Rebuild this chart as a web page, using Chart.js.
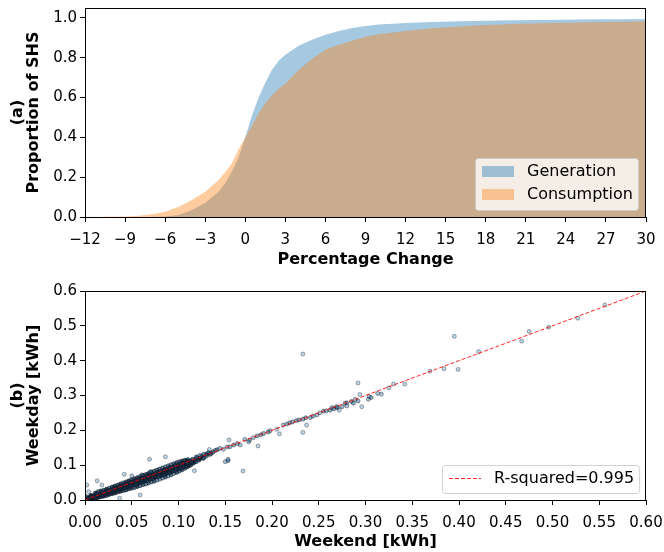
<!DOCTYPE html>
<html lang="en">
<head>
<meta charset="UTF-8" />
<title>SHS percentage change and weekday vs weekend</title>
<script src="https://cdn.jsdelivr.net/npm/chart.js"></script>
<style>
  body { margin: 0; background: #fff; }
  .panel { position: absolute; left: 0; width: 664px; }
  #top { top: 0; height: 272px; }
  #bottom { top: 276px; height: 276px; }
</style>
</head>
<body>
<div class="panel" id="top"><canvas id="cdfChart" width="664" height="272"></canvas></div>
<div class="panel" id="bottom"><canvas id="scatterChart" width="664" height="276"></canvas></div>
<script>
// (a) cumulative share of SHS vs percentage change
const pctChange = [-12, -9, -8, -7, -6, -5, -4, -3, -2, -1.5, -1, -0.5, 0, 0.5, 1, 1.5, 2, 2.5, 3, 4, 5, 6, 7, 8, 9, 10, 12, 14, 16, 18, 20, 22, 24, 26, 28, 30];
const generation = [0, 0, 0, 0, 0.003, 0.01, 0.035, 0.07, 0.127, 0.17, 0.23, 0.30, 0.40, 0.51, 0.60, 0.675, 0.74, 0.785, 0.815, 0.86, 0.89, 0.915, 0.935, 0.95, 0.96, 0.967, 0.975, 0.98, 0.983, 0.986, 0.988, 0.99, 0.991, 0.993, 0.994, 0.995];
const consumption = [0, 0.002, 0.006, 0.014, 0.027, 0.05, 0.085, 0.127, 0.186, 0.225, 0.27, 0.34, 0.40, 0.46, 0.52, 0.57, 0.61, 0.645, 0.67, 0.74, 0.795, 0.84, 0.865, 0.885, 0.905, 0.918, 0.935, 0.948, 0.957, 0.964, 0.969, 0.973, 0.976, 0.979, 0.981, 0.983];
const pctTicks = [-12, -9, -6, -3, 0, 3, 6, 9, 12, 15, 18, 21, 24, 27, 30];
const shareTicks = [0, 0.2, 0.4, 0.6, 0.8, 1.0];

// (b) weekday vs weekend consumption per SHS
const weekendKwh = [
  0.002, 0.003, 0.001,
  0.005, 0.004, 0.006, 0.004,
  0.008, 0.009, 0.007,
  0.011, 0.010, 0.012, 0.011,
  0.014, 0.015, 0.013, 0.014,
  0.017, 0.016, 0.018, 0.017,
  0.020, 0.021, 0.019, 0.020,
  0.023, 0.022, 0.024, 0.023,
  0.026, 0.027, 0.025, 0.026,
  0.029, 0.028, 0.030, 0.029,
  0.032, 0.033, 0.031, 0.032,
  0.035, 0.034, 0.036, 0.035,
  0.038, 0.039, 0.037, 0.038,
  0.041, 0.040, 0.042, 0.041,
  0.044, 0.045, 0.043, 0.044,
  0.047, 0.046, 0.048, 0.047,
  0.050, 0.051, 0.049, 0.050,
  0.053, 0.052, 0.054, 0.053,
  0.056, 0.057, 0.055, 0.056,
  0.059, 0.058, 0.060, 0.059,
  0.062, 0.063, 0.061, 0.062,
  0.065, 0.064, 0.066, 0.065,
  0.068, 0.069, 0.067, 0.068,
  0.071, 0.070, 0.072, 0.071,
  0.074, 0.075, 0.073, 0.074,
  0.077, 0.076, 0.078, 0.077,
  0.080, 0.081, 0.079, 0.080,
  0.083, 0.082, 0.084, 0.083,
  0.086, 0.087, 0.085, 0.086,
  0.089, 0.088, 0.090, 0.089,
  0.092, 0.093, 0.091, 0.092,
  0.095, 0.094, 0.096, 0.095,
  0.098, 0.099, 0.097, 0.098,
  0.101, 0.100, 0.102, 0.101,
  0.104, 0.105, 0.103, 0.104,
  0.107, 0.106, 0.108, 0.107,
  0.110, 0.111, 0.109, 0.110,
  0.113, 0.112, 0.114,
  0.116, 0.117, 0.115,
  0.119, 0.118, 0.120,
  0.122, 0.123,
  0.126, 0.125,
  0.130, 0.134,
  0.0035, 0.0035, 0.0095, 0.0095, 0.0155, 0.0155, 0.0215, 0.0215, 0.0275, 0.0275,
  0.0335, 0.0335, 0.0395, 0.0395, 0.0455, 0.0455, 0.0515, 0.0515, 0.0575, 0.0575,
  0.0635, 0.0635, 0.0695, 0.0695, 0.0755, 0.0755, 0.0815, 0.0815, 0.0875, 0.0875,
  0.0935, 0.0935, 0.0995, 0.0995, 0.1055, 0.1055, 0.1115, 0.1115,
  0.0065, 0.0065, 0.0065, 0.0125, 0.0125, 0.0125, 0.0185, 0.0185, 0.0185,
  0.0245, 0.0245, 0.0245, 0.0305, 0.0305, 0.0305, 0.0365, 0.0365, 0.0365,
  0.0425, 0.0425, 0.0425, 0.0485, 0.0485, 0.0485, 0.0545, 0.0545, 0.0545,
  0.0605, 0.0605, 0.0605, 0.0665, 0.0665, 0.0665, 0.0725, 0.0725, 0.0725,
  0.0785, 0.0785, 0.0785, 0.0845, 0.0845, 0.0845, 0.0905, 0.0905, 0.0905,
  0.0965, 0.0965, 0.0965, 0.1025, 0.1025, 0.1025, 0.1085, 0.1085, 0.1085,
  0.069, 0.086, 0.042, 0.013, 0.002, 0.018, 0.059, 0.037, 0.050, 0.061,
  0.070, 0.109, 0.114, 0.117, 0.127, 0.135, 0.123, 0.130, 0.141, 0.144,
  0.150, 0.153, 0.169, 0.155, 0.154, 0.166, 0.175, 0.184, 0.153,
  0.119, 0.127, 0.132, 0.133, 0.139, 0.152, 0.159, 0.171, 0.176, 0.185,
  0.191, 0.198, 0.205, 0.208, 0.212, 0.219, 0.226, 0.233, 0.233, 0.237,
  0.241, 0.248, 0.255, 0.262, 0.269, 0.280, 0.233,
  0.216, 0.222, 0.229, 0.236, 0.244, 0.251, 0.258, 0.264, 0.196, 0.188,
  0.180, 0.163, 0.148, 0.137,
  0.266, 0.270, 0.272, 0.275, 0.278, 0.280, 0.285, 0.287, 0.289, 0.292,
  0.292, 0.294, 0.296, 0.303, 0.304, 0.306, 0.313, 0.317, 0.325, 0.330,
  0.342, 0.369, 0.384, 0.399, 0.395, 0.421, 0.467, 0.475, 0.496, 0.527, 0.556
];
const weekdayKwh = [
  0.000, 0.004, 0.010,
  0.002, 0.006, 0.012, 0.024,
  0.003, 0.008, 0.013,
  0.005, 0.010, 0.016, 0.020,
  0.007, 0.012, 0.018, 0.024,
  0.009, 0.015, 0.020, 0.026,
  0.011, 0.017, 0.022, 0.028,
  0.013, 0.019, 0.025, 0.031,
  0.016, 0.022, 0.028, 0.034,
  0.018, 0.025, 0.031, 0.037,
  0.020, 0.027, 0.033, 0.040,
  0.023, 0.030, 0.036, 0.043,
  0.025, 0.033, 0.039, 0.046,
  0.027, 0.035, 0.042, 0.049,
  0.029, 0.038, 0.045, 0.052,
  0.032, 0.041, 0.048, 0.055,
  0.034, 0.043, 0.050, 0.058,
  0.036, 0.046, 0.053, 0.061,
  0.039, 0.049, 0.056, 0.064,
  0.041, 0.051, 0.059, 0.067,
  0.044, 0.054, 0.062, 0.070,
  0.046, 0.057, 0.065, 0.073,
  0.049, 0.060, 0.068, 0.076,
  0.052, 0.062, 0.071, 0.080,
  0.054, 0.065, 0.074, 0.083,
  0.057, 0.068, 0.077, 0.086,
  0.060, 0.071, 0.080, 0.089,
  0.063, 0.074, 0.083, 0.092,
  0.066, 0.077, 0.086, 0.095,
  0.069, 0.080, 0.089, 0.098,
  0.072, 0.083, 0.092, 0.101,
  0.076, 0.086, 0.095, 0.104,
  0.079, 0.089, 0.098, 0.107,
  0.083, 0.093, 0.101, 0.110,
  0.087, 0.096, 0.104, 0.112,
  0.091, 0.099, 0.107, 0.114,
  0.096, 0.103, 0.110, 0.116,
  0.100, 0.107, 0.113,
  0.106, 0.111, 0.117,
  0.110, 0.116, 0.121,
  0.115, 0.120,
  0.120, 0.125,
  0.126, 0.131,
  0.001, 0.005, 0.006, 0.011, 0.011, 0.017, 0.016, 0.022, 0.021, 0.028,
  0.027, 0.034, 0.032, 0.040, 0.038, 0.046, 0.043, 0.052, 0.049, 0.058,
  0.054, 0.064, 0.060, 0.070, 0.066, 0.076, 0.071, 0.082, 0.077, 0.088,
  0.083, 0.094, 0.089, 0.100, 0.095, 0.106, 0.102, 0.111,
  0.003, 0.007, 0.010, 0.008, 0.012, 0.016, 0.013, 0.017, 0.021,
  0.018, 0.023, 0.027, 0.023, 0.028, 0.033, 0.029, 0.034, 0.039,
  0.034, 0.040, 0.045, 0.039, 0.045, 0.051, 0.045, 0.051, 0.057,
  0.050, 0.057, 0.063, 0.056, 0.063, 0.069, 0.061, 0.068, 0.075,
  0.067, 0.074, 0.081, 0.072, 0.080, 0.087, 0.078, 0.086, 0.093,
  0.084, 0.092, 0.099, 0.090, 0.098, 0.105, 0.097, 0.104, 0.111,
  0.117, 0.124, 0.074, 0.055, 0.043, 0.043, 0.014, 0.005, 0.069, 0.072,
  0.081, 0.107, 0.107, 0.084, 0.120, 0.134, 0.128, 0.131, 0.144, 0.148,
  0.110, 0.113, 0.083, 0.153, 0.172, 0.158, 0.167, 0.184, 0.117,
  0.124, 0.131, 0.136, 0.145, 0.142, 0.152, 0.158, 0.174, 0.172, 0.155,
  0.191, 0.199, 0.203, 0.190, 0.215, 0.222, 0.228, 0.232, 0.194, 0.215,
  0.237, 0.244, 0.255, 0.258, 0.268, 0.279, 0.419,
  0.218, 0.224, 0.230, 0.236, 0.241, 0.250, 0.256, 0.265, 0.195, 0.187,
  0.179, 0.162, 0.146, 0.138,
  0.262, 0.265, 0.258, 0.268, 0.278, 0.270, 0.283, 0.278, 0.289, 0.284,
  0.336, 0.303, 0.268, 0.289, 0.297, 0.294, 0.306, 0.304, 0.322, 0.333,
  0.333, 0.370, 0.377, 0.375, 0.470, 0.426, 0.456, 0.484, 0.496, 0.522, 0.560
];
const fitX = [0, 0.6];
const fitY = [0, 0.6];
const kwhXTicks = [0, 0.05, 0.1, 0.15, 0.2, 0.25, 0.3, 0.35, 0.4, 0.45, 0.5, 0.55, 0.6];
const kwhYTicks = [0, 0.1, 0.2, 0.3, 0.4, 0.5, 0.6];

Chart.defaults.font.family = "'DejaVu Sans', sans-serif";
Chart.defaults.color = '#000';
Chart.defaults.animation = false;

const FONT = "'DejaVu Sans', sans-serif";

function tickGrid() {
  return { drawOnChartArea: false, tickLength: 5, tickColor: '#000', tickWidth: 1 };
}

function xAxis(min, max, ticks, fmt, title, height, titlePad) {
  return {
    type: 'linear', min, max,
    afterBuildTicks: s => { s.ticks = ticks.map(v => ({ value: v })); },
    afterFit: s => { s.height = height; s.paddingLeft = 0; s.paddingRight = 0; },
    grid: tickGrid(),
    border: { display: false },
    ticks: { font: { size: 15 }, padding: 9, maxRotation: 0, autoSkip: false, callback: fmt },
    title: { display: true, text: title, font: { size: 16, weight: 'bold' }, padding: { top: 0, bottom: titlePad } }
  };
}

function yAxis(min, max, ticks, fmt, title) {
  return {
    type: 'linear', min, max,
    afterBuildTicks: s => { s.ticks = ticks.map(v => ({ value: v })); },
    afterFit: s => { s.width = 85; s.paddingTop = 0; s.paddingBottom = 0; },
    grid: tickGrid(),
    border: { display: false },
    ticks: { font: { size: 15 }, padding: 3, autoSkip: false, callback: fmt },
    title: { display: true, text: title, font: { size: 16, weight: 'bold', lineHeight: '16px' }, padding: { top: 10, bottom: 0 } }
  };
}

// black box round the plot area
const frame = {
  id: 'frame',
  afterDatasetsDraw(chart) {
    const { ctx, chartArea: a } = chart;
    ctx.save();
    ctx.strokeStyle = '#000';
    ctx.lineWidth = 1;
    ctx.strokeRect(Math.round(a.left) + 0.5, Math.round(a.top) + 0.5,
      Math.round(a.right - a.left) - 1, Math.round(a.bottom - a.top));
    ctx.restore();
  }
};

function legendBox(ctx, x, y, w, h) {
  ctx.beginPath();
  ctx.roundRect(x + 0.5, y + 0.5, w, h, 3);
  ctx.fillStyle = 'rgba(255,255,255,0.8)';
  ctx.fill();
  ctx.strokeStyle = 'rgba(204,204,204,0.9)';
  ctx.lineWidth = 1;
  ctx.stroke();
}

const cdfLegend = {
  id: 'cdfLegend',
  afterDraw(chart) {
    const { ctx, chartArea: a } = chart;
    const sets = chart.data.datasets;
    ctx.save();
    ctx.font = '16px ' + FONT;
    const tw = Math.max(...sets.map(d => ctx.measureText(d.label).width));
    const w = 6 + 32 + 13 + tw + 6, h = 52;
    const x0 = Math.round(a.right - 8 - w), y0 = Math.round(a.bottom - 7 - h);
    legendBox(ctx, x0, y0, w, h);
    sets.forEach((d, i) => {
      ctx.fillStyle = d.backgroundColor;
      ctx.fillRect(x0 + 7, y0 + 8 + i * 23, 32, 11);
      ctx.fillStyle = '#000';
      ctx.textBaseline = 'middle';
      ctx.fillText(d.label, x0 + 52, y0 + 14 + i * 23);
    });
    ctx.restore();
  }
};

const fitLegend = {
  id: 'fitLegend',
  afterDraw(chart) {
    const { ctx, chartArea: a } = chart;
    const d = chart.data.datasets[1];
    ctx.save();
    ctx.font = '16px ' + FONT;
    const tw = ctx.measureText(d.label).width;
    const w = 6 + 32 + 13 + tw + 6, h = 28;
    const x0 = Math.round(a.right - 7 - w), y0 = Math.round(a.bottom - 7 - h);
    legendBox(ctx, x0, y0, w, h);
    ctx.strokeStyle = d.borderColor;
    ctx.lineWidth = d.borderWidth;
    ctx.setLineDash(d.borderDash);
    ctx.beginPath();
    ctx.moveTo(x0 + 7, y0 + 13.5);
    ctx.lineTo(x0 + 39, y0 + 13.5);
    ctx.stroke();
    ctx.setLineDash([]);
    ctx.fillStyle = '#000';
    ctx.textBaseline = 'middle';
    ctx.fillText(d.label, x0 + 52, y0 + 14);
    ctx.restore();
  }
};

const minus = v => String(v).replace('-', '\u2212');

// overlapping translucent markers pile up to a dark core in the original;
// shade each marker by how many neighbours it has
const crowd = weekendKwh.map((x, i) => weekendKwh.reduce((n, x2, j) =>
  n + (j !== i && Math.abs(x2 - x) < 0.006 && Math.abs(weekdayKwh[j] - weekdayKwh[i]) < 0.006 ? 1 : 0), 0));
const shade = (i, a0, a1, c0, c1) => {
  const t = Math.min(crowd[i] / 7, 1);
  const c = c0.map((v, k) => Math.round(v + (c1[k] - v) * t));
  return `rgba(${c[0]},${c[1]},${c[2]},${(a0 + (a1 - a0) * t).toFixed(2)})`;
};

new Chart(document.getElementById('cdfChart'), {
  type: 'line',
  data: {
    datasets: [
      {
        label: 'Generation',
        data: pctChange.map((x, i) => ({ x, y: generation[i] })),
        backgroundColor: 'rgba(31,119,180,0.4)',
        borderWidth: 0, pointRadius: 0, fill: 'origin', order: 1
      },
      {
        label: 'Consumption',
        data: pctChange.map((x, i) => ({ x, y: consumption[i] })),
        backgroundColor: 'rgba(255,127,14,0.4)',
        borderWidth: 0, pointRadius: 0, fill: 'origin', order: 0
      }
    ]
  },
  options: {
    responsive: false,
    devicePixelRatio: 1,
    layout: { padding: { top: 8, right: 18, left: 0, bottom: 0 } },
    plugins: { legend: { display: false }, tooltip: { enabled: false } },
    scales: {
      x: xAxis(-12, 30, pctTicks, minus, 'Percentage Change', 55, 3),
      y: yAxis(0, 1.05, shareTicks, v => v.toFixed(1), ['(a)', 'Proportion of SHS'])
    }
  },
  plugins: [frame, cdfLegend]
});

new Chart(document.getElementById('scatterChart'), {
  type: 'scatter',
  data: {
    datasets: [
      {
        label: 'SHS',
        data: weekendKwh.map((x, i) => ({ x, y: weekdayKwh[i] })),
        pointRadius: 2,
        pointBackgroundColor: c => shade(c.dataIndex, 0.3, 0.85, [31, 119, 180], [22, 48, 72]),
        pointBorderColor: c => shade(c.dataIndex, 0.4, 0.8, [0, 0, 0], [12, 24, 36]),
        pointBorderWidth: 0.8,
        order: 1
      },
      {
        type: 'line',
        label: 'R-squared=0.995',
        data: fitX.map((x, i) => ({ x, y: fitY[i] })),
        borderColor: 'rgba(255,0,0,0.85)',
        borderWidth: 1,
        borderDash: [4, 2],
        pointRadius: 0,
        fill: false,
        order: 0
      }
    ]
  },
  options: {
    responsive: false,
    devicePixelRatio: 1,
    layout: { padding: { top: 15, right: 18, left: 0, bottom: 0 } },
    plugins: { legend: { display: false }, tooltip: { enabled: false } },
    scales: {
      x: xAxis(0, 0.6, kwhXTicks, v => v.toFixed(2), 'Weekend [kWh]', 52, 1),
      y: yAxis(0, 0.6, kwhYTicks, v => v.toFixed(1), ['(b)', 'Weekday [kWh]'])
    }
  },
  plugins: [frame, fitLegend]
});
</script>
</body>
</html>
